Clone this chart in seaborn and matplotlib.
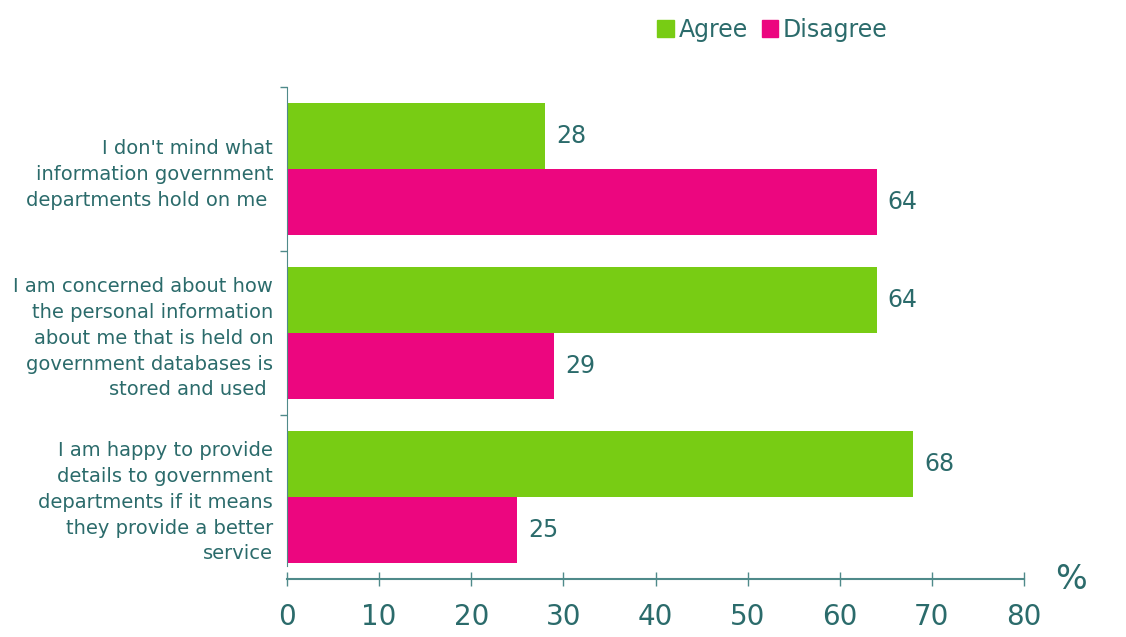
import pandas as pd
import matplotlib.pyplot as plt
import seaborn as sns

# survey data
statements = [
    "I don't mind what\ninformation government\ndepartments hold on me ",
    "I am concerned about how\nthe personal information\nabout me that is held on\ngovernment databases is\nstored and used ",
    "I am happy to provide\ndetails to government\ndepartments if it means\nthey provide a better\nservice",
]
responses = ["Agree", "Disagree"]
agree = [28, 64, 68]
disagree = [64, 29, 25]
x_ticks = [0, 10, 20, 30, 40, 50, 60, 70, 80]

GREEN = "#78cc14"
PINK = "#ec067f"
TEAL = "#2b6b6b"
AXIS = "#4f8a8a"

df = pd.DataFrame({
    "statement": statements * 2,
    "response": [responses[0]] * 3 + [responses[1]] * 3,
    "value": agree + disagree,
})

sns.set_style("white")
plt.rcParams["font.family"] = ["DejaVu Sans"]

fig = plt.figure(figsize=(11.26, 6.37), dpi=100)
ax = fig.add_axes([0.2549, 0.0911, 0.6545, 0.7724])

sns.barplot(data=df, y="statement", x="value", hue="response", orient="h",
            palette=[GREEN, PINK], saturation=1, width=0.8, linewidth=0,
            ax=ax, legend=False)

# value labels
for cont in ax.containers:
    ax.bar_label(cont, padding=8, fontsize=17, color=TEAL)

ax.set_xlim(0, 80)
ax.set_ylim(2.5, -0.5)
ax.set_xlabel("")
ax.set_ylabel("")

# category labels on minor ticks, boundary ticks on major
ax.set_yticks([-0.5, 0.5, 1.5])
ax.set_yticklabels([])
ax.set_yticks([0, 1, 2], minor=True)
ax.set_yticklabels(statements, minor=True, fontsize=14, color=TEAL, linespacing=1.45)
ax.tick_params(axis="y", which="minor", left=False, length=0, pad=10)
ax.tick_params(axis="y", which="major", left=True, length=5, width=1, color=AXIS,
               direction="out")

ax.set_xticks(x_ticks)
ax.set_xticklabels([str(t) for t in x_ticks], fontsize=20, color=TEAL)
ax.tick_params(axis="x", bottom=True, length=10, width=1, color=AXIS,
               direction="inout", pad=12)

for s in ["top", "right"]:
    ax.spines[s].set_visible(False)
ax.spines["left"].set_color(AXIS)
ax.spines["bottom"].set_color(AXIS)
ax.spines["left"].set_bounds(-0.5, 2.42)
ax.spines["bottom"].set_linewidth(1.5)

fig.text(0.951, 0.09, "%", fontsize=24, color=TEAL, ha="center", va="center")

handles = [plt.Rectangle((0, 0), 1, 1, color=c) for c in [GREEN, PINK]]
fig.legend(handles, responses, loc="center", bbox_to_anchor=(0.686, 0.953), ncol=2,
           frameon=False, fontsize=17, handlelength=0.7, handleheight=0.7,
           handletextpad=0.2, columnspacing=0.6, labelcolor=TEAL)

fig.savefig("out.png", dpi=100)
